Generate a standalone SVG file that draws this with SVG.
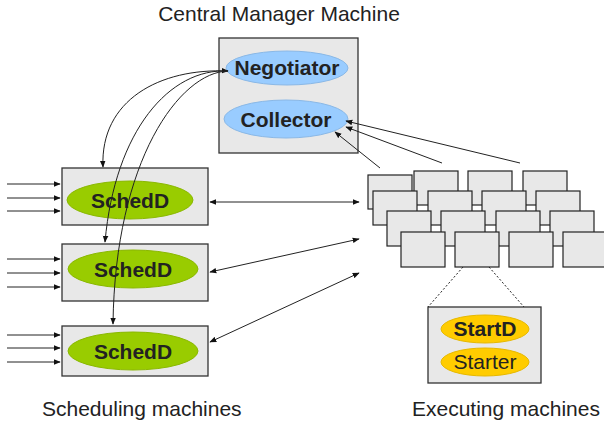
<svg xmlns="http://www.w3.org/2000/svg" width="604" height="424" viewBox="0 0 604 424">
<defs>
<marker id="ah" viewBox="0 0 10 10" refX="9" refY="5" markerWidth="7" markerHeight="7" orient="auto-start-reverse" markerUnits="userSpaceOnUse"><path d="M0,1 L10,5 L0,9 z" fill="#111"/></marker>
<style>
.box{fill:#e8e8e8;stroke:#333;stroke-width:1.3}
.grid rect{fill:#e8e8e8;stroke:#222;stroke-width:1.2}
.lbl{font-family:"Liberation Sans",Arial,sans-serif;font-size:21px;fill:#222}
.b{font-weight:bold;text-anchor:middle}
.blue{fill:#99ccff;stroke:#8ab8e6;stroke-width:1}
.green{fill:#99cc00;stroke:#8ab800;stroke-width:1}
.yellow{fill:#ffcc00;stroke:#e6b800;stroke-width:1}
.con{fill:none;stroke:#222;stroke-width:1}
</style>
</defs>
<rect width="604" height="424" fill="#fff"/>
<text class="lbl" x="279" y="21" text-anchor="middle">Central Manager Machine</text>
<text class="lbl" x="42" y="416">Scheduling machines</text>
<text class="lbl" x="412" y="416">Executing machines</text>

<g id="central">
<rect class="box" x="219" y="38" width="139" height="115"/>
</g>
<g id="negotiator">
<ellipse class="blue" cx="287" cy="68" rx="61" ry="17"/>
<text class="lbl b" x="287" y="75">Negotiator</text>
</g>
<g id="collector">
<ellipse class="blue" cx="286" cy="119" rx="62" ry="19"/>
<text class="lbl b" x="286" y="127">Collector</text>
</g>

<g id="schedd1">
<rect class="box" x="62" y="168" width="146" height="57"/>
<ellipse class="green" cx="130" cy="200" rx="63" ry="19"/>
<text class="lbl b" x="130" y="208">SchedD</text>
</g>
<g id="schedd2">
<rect class="box" x="62" y="244" width="146" height="57"/>
<ellipse class="green" cx="133" cy="269" rx="65" ry="19"/>
<text class="lbl b" x="133" y="277">SchedD</text>
</g>
<g id="schedd3">
<rect class="box" x="62" y="326" width="146" height="50"/>
<ellipse class="green" cx="133" cy="351" rx="65" ry="19"/>
<text class="lbl b" x="133" y="359">SchedD</text>
</g>

<g id="executing-grid" class="grid">
<rect x="414" y="171" width="44" height="34"/>
<rect x="468" y="171" width="44" height="34"/>
<rect x="523" y="171" width="44" height="34"/>
<rect x="368" y="175" width="44" height="34"/>
<rect x="373" y="191" width="44" height="34"/>
<rect x="428" y="191" width="44" height="34"/>
<rect x="482" y="191" width="44" height="34"/>
<rect x="536" y="191" width="44" height="34"/>
<rect x="387" y="211" width="44" height="35"/>
<rect x="441" y="211" width="44" height="35"/>
<rect x="496" y="211" width="44" height="35"/>
<rect x="550" y="211" width="44" height="35"/>
<rect x="401" y="232" width="44" height="35"/>
<rect x="455" y="232" width="44" height="35"/>
<rect x="509" y="232" width="44" height="35"/>
<rect x="563" y="232" width="44" height="35"/>
</g>

<g id="exec-detail">
<rect class="box" x="428" y="307" width="113" height="76"/>
<ellipse class="yellow" cx="485" cy="329" rx="44" ry="14"/>
<text class="lbl b" x="485" y="336">StartD</text>
<ellipse class="yellow" cx="485" cy="362" rx="44" ry="14"/>
<text class="lbl" x="485" y="369" text-anchor="middle">Starter</text>
</g>

<g id="connectors" class="con">
<path class="con" d="M7,184 H60" marker-end="url(#ah)"/>
<path class="con" d="M7,198 H60" marker-end="url(#ah)"/>
<path class="con" d="M7,211 H60" marker-end="url(#ah)"/>
<path class="con" d="M7,259 H60" marker-end="url(#ah)"/>
<path class="con" d="M7,273 H60" marker-end="url(#ah)"/>
<path class="con" d="M7,287 H60" marker-end="url(#ah)"/>
<path class="con" d="M7,335 H60" marker-end="url(#ah)"/>
<path class="con" d="M7,348 H60" marker-end="url(#ah)"/>
<path class="con" d="M7,362 H60" marker-end="url(#ah)"/>

<path class="con" d="M210,202 H359" marker-start="url(#ah)" marker-end="url(#ah)"/>
<path class="con" d="M210,272 L359,239" marker-start="url(#ah)" marker-end="url(#ah)"/>
<path class="con" d="M210,342 L359,273" marker-start="url(#ah)" marker-end="url(#ah)"/>

<path class="con" d="M380,168 L335,132" marker-end="url(#ah)"/>
<path class="con" d="M442,163 L346,127" marker-end="url(#ah)"/>
<path class="con" d="M520,163 L346,121" marker-end="url(#ah)"/>

<path class="con" d="M228,71 C160,68 100,100 103,167" marker-start="url(#ah)" marker-end="url(#ah)"/>
<path class="con" d="M228,71 C170,68 115,130 105,242" marker-end="url(#ah)"/>
<path class="con" d="M228,71 C180,72 115,160 113,324" marker-end="url(#ah)"/>

<path class="con" d="M463,267 L428,307" stroke-dasharray="2,2"/>
<path class="con" d="M489,267 L524,307" stroke-dasharray="2,2"/>
</g>
</svg>
